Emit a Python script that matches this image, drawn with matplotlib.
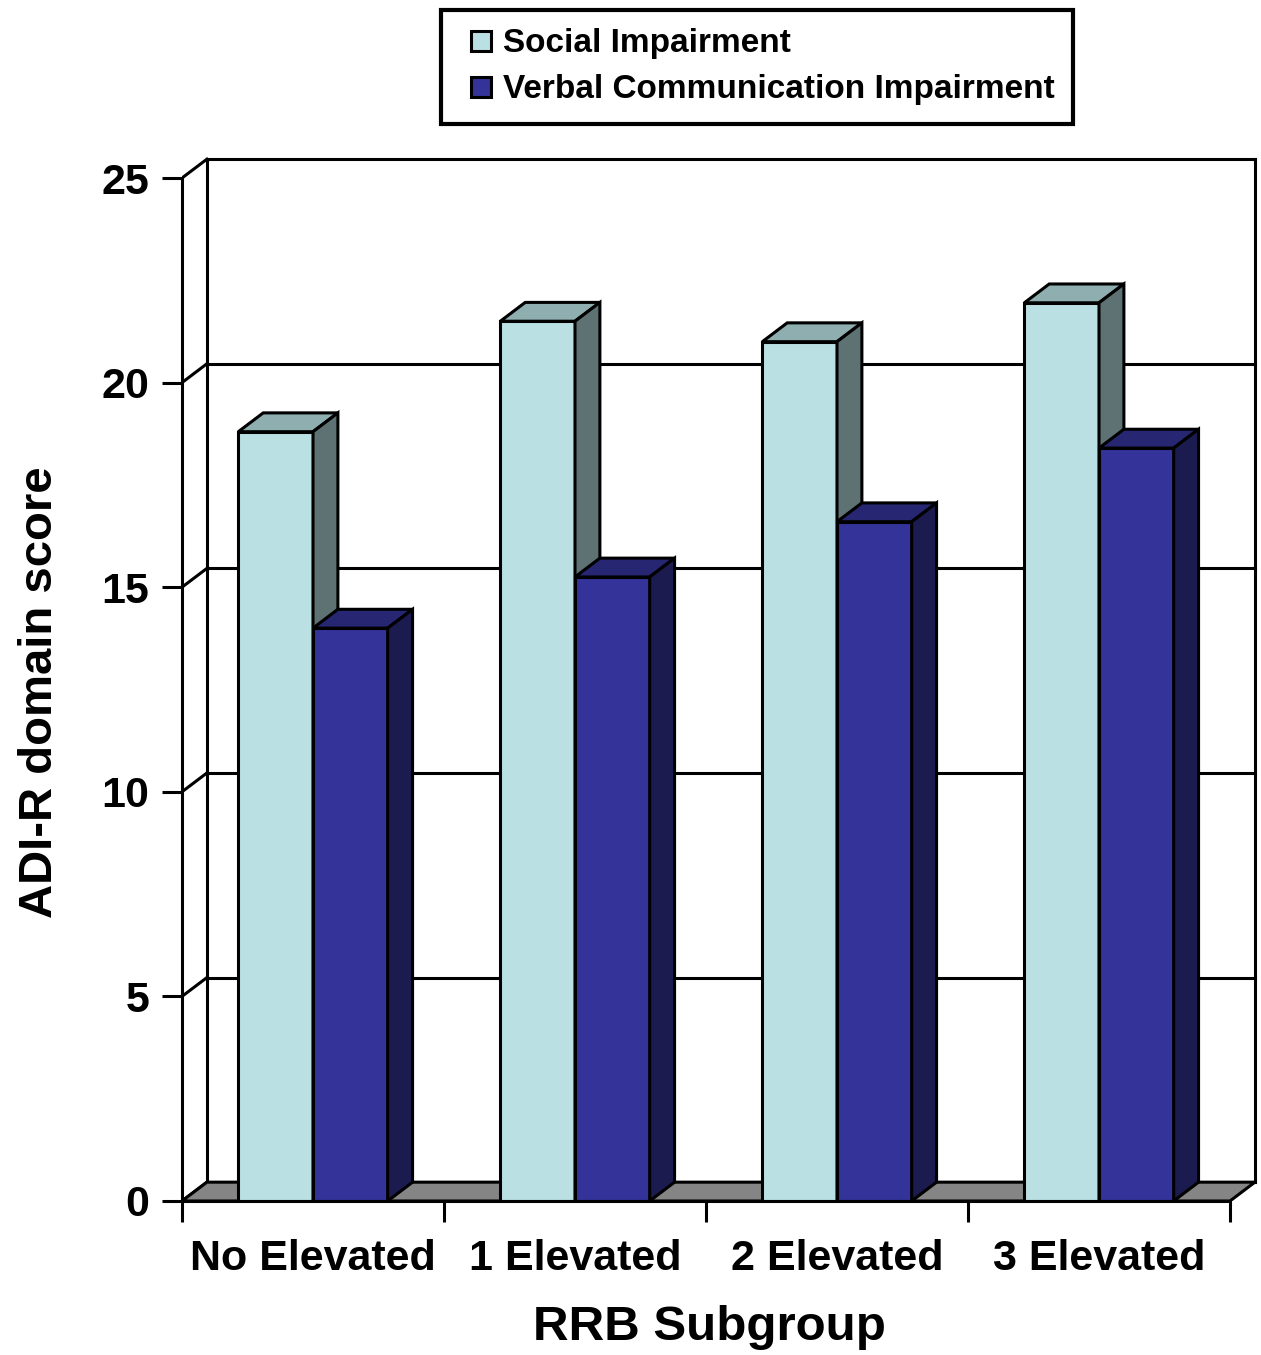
import matplotlib
matplotlib.use("Agg")
import matplotlib.pyplot as plt
from matplotlib.patches import Polygon, Patch, Rectangle
from matplotlib.legend_handler import HandlerPatch

plt.rcParams["font.family"] = ["Liberation Sans", "DejaVu Sans"]
plt.rcParams["font.weight"] = "bold"

groups = ["No Elevated", "1 Elevated", "2 Elevated", "3 Elevated"]
social = [18.8, 21.5, 21.0, 21.95]
verbal = [14.0, 15.25, 16.6, 18.4]
series_names = ["Social Impairment", "Verbal Communication Impairment"]
yticks = [0, 5, 10, 15, 20, 25]

# front / top / side shades for each series
social_cols = ("#bbe0e3", "#8eaeb0", "#5e7274")
verbal_cols = ("#333399", "#262673", "#1b1b4f")

DX, DY = 0.095, 0.46   # depth offset of the box (x in groups, y in score)
BW = 0.285             # bar width
LW = 2.2

fig = plt.figure(figsize=(12.61, 13.55), dpi=100)
ax = fig.add_axes([182 / 1261, 154 / 1355, 1078 / 1261, 1051 / 1355])
ax.set_xlim(0, 1078 / 262)
ax.set_ylim(0, 1051 / 40.92)
n = len(groups)
ymax = yticks[-1]

# back wall gridlines and edges
for v in yticks:
    ax.plot([DX, n + DX], [v + DY, v + DY], color="black", lw=LW, zorder=1)
    ax.plot([0, DX], [v, v + DY], color="black", lw=LW, zorder=1)
ax.plot([DX, DX], [DY, ymax + DY], color="black", lw=LW, zorder=1)
ax.plot([n + DX, n + DX], [DY, ymax + DY], color="black", lw=LW, zorder=1)

# floor
ax.add_patch(Polygon([(0, 0), (n, 0), (n + DX, DY), (DX, DY)],
                     facecolor="#858585", edgecolor="black", lw=LW, zorder=2))


def bar3d(x0, h, cols):
    front, top, side = cols
    x1 = x0 + BW
    ax.add_patch(Polygon([(x0, 0), (x1, 0), (x1, h), (x0, h)],
                         facecolor=front, edgecolor="black", lw=LW, zorder=3,
                         joinstyle="miter"))
    ax.add_patch(Polygon([(x0, h), (x1, h), (x1 + DX, h + DY), (x0 + DX, h + DY)],
                         facecolor=top, edgecolor="black", lw=LW, zorder=3,
                         joinstyle="miter"))
    ax.add_patch(Polygon([(x1, 0), (x1 + DX, DY), (x1 + DX, h + DY), (x1, h)],
                         facecolor=side, edgecolor="black", lw=LW, zorder=3,
                         joinstyle="miter"))


for i in range(n):
    bar3d(i + 0.5 - BW, social[i], social_cols)
    bar3d(i + 0.5, verbal[i], verbal_cols)

# front axes
for s in ["top", "right"]:
    ax.spines[s].set_visible(False)
ax.spines["left"].set_bounds(0, ymax)
ax.spines["bottom"].set_bounds(0, n)
for s in ["left", "bottom"]:
    ax.spines[s].set_linewidth(LW)
    ax.spines[s].set_zorder(4)
ax.patch.set_visible(False)

ax.set_yticks(yticks)
ax.set_yticklabels([str(v) for v in yticks], fontsize=31, fontweight="bold")
ax.tick_params(axis="y", length=14.5, width=LW, pad=9)

ax.set_xticks(range(n + 1))
ax.set_xticklabels([""] * (n + 1))
ax.set_xticks([i + 0.5 for i in range(n)], minor=True)
ax.set_xticklabels(groups, minor=True, fontsize=31, fontweight="bold")
ax.tick_params(axis="x", which="major", length=15, width=LW)
ax.tick_params(axis="x", which="minor", length=0, pad=27)

fig.text(709 / 1261, 1 - 1340 / 1355, "RRB Subgroup", fontsize=35.5,
         fontweight="bold", ha="center", va="baseline")
fig.text(52 / 1261, 1 - 692 / 1355, "ADI-R domain score", fontsize=34,
         fontweight="bold", ha="center", va="baseline", rotation=90,
         rotation_mode="anchor")


# small square swatch sitting at the right end of the handle slot
def square_swatch(legend, orig_handle, xdescent, ydescent, width, height, fontsize):
    return Rectangle((-xdescent + width - height, -ydescent), height, height)


handles = [Patch(facecolor=social_cols[0], edgecolor="black", lw=LW),
           Patch(facecolor=verbal_cols[0], edgecolor="black", lw=LW)]
leg = fig.legend(handles, series_names, loc="upper left",
                 bbox_to_anchor=(441 / 1261, 1 - 10 / 1355),
                 prop={"size": 24, "weight": "bold"}, fancybox=False,
                 framealpha=1, edgecolor="black", handlelength=0.95,
                 handleheight=0.55, handletextpad=0.35, labelspacing=0.45,
                 borderpad=0.55, borderaxespad=0,
                 handler_map={Patch: HandlerPatch(patch_func=square_swatch)})
leg.get_frame().set_linewidth(3)

fig.savefig("out.png", dpi=100)
